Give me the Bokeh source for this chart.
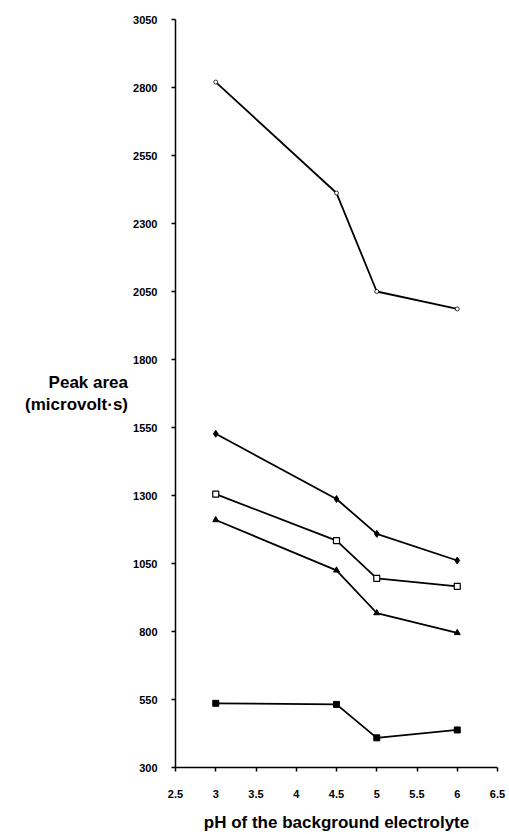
from bokeh.plotting import figure
from bokeh.models import Range1d, FixedTicker
from bokeh.embed import file_html
from bokeh.resources import INLINE

ph = [3, 4.5, 5, 6]
s_circle = [2820, 2412, 2050, 1986]
s_diamond = [1527, 1287, 1159, 1061]
s_open_square = [1305, 1134, 995, 966]
s_triangle = [1210, 1025, 868, 795]
s_square = [536, 532, 409, 438]

x_ticks = [2.5, 3, 3.5, 4, 4.5, 5, 5.5, 6, 6.5]
x_labels = ["2.5", "3", "3.5", "4", "4.5", "5", "5.5", "6", "6.5"]
y_ticks = [300, 550, 800, 1050, 1300, 1550, 1800, 2050, 2300, 2550, 2800, 3050]

FONT = "Liberation Sans"

p = figure(width=509, height=834, output_backend="svg", toolbar_location=None,
           x_range=Range1d(2.5, 6.5), y_range=Range1d(300, 3050),
           min_border_left=175, min_border_right=12, min_border_top=19, min_border_bottom=60)
p.outline_line_color = None
p.xgrid.grid_line_color = None
p.ygrid.grid_line_color = None

for ax in (p.xaxis, p.yaxis):
    ax.axis_line_color = "black"
    ax.axis_line_width = 1.5
    ax.major_tick_line_color = "black"
    ax.major_tick_line_width = 1.5
    ax.major_tick_in = 0
    ax.major_tick_out = 4
    ax.minor_tick_line_color = None
    ax.major_label_text_font = FONT
    ax.major_label_text_font_style = "bold"
    ax.major_label_text_font_size = "11px"
    ax.major_label_text_color = "black"

p.xaxis.ticker = FixedTicker(ticks=x_ticks)
p.yaxis.ticker = FixedTicker(ticks=y_ticks)
p.xaxis.major_label_overrides = dict(zip(x_ticks, x_labels))
p.xaxis.major_label_standoff = 18
p.yaxis.major_label_standoff = 14

p.xaxis.axis_label = "pH of the background electrolyte"
p.xaxis.axis_label_text_font = FONT
p.xaxis.axis_label_text_font_style = "bold"
p.xaxis.axis_label_text_font_size = "17px"
p.xaxis.axis_label_text_color = "black"
p.xaxis.axis_label_standoff = 12

p.yaxis.axis_label = "Peak area\n(microvolt\u00b7s)"
p.yaxis.axis_label_orientation = "horizontal"
p.yaxis.axis_label_text_font = FONT
p.yaxis.axis_label_text_font_style = "bold"
p.yaxis.axis_label_text_font_size = "17px"
p.yaxis.axis_label_text_color = "black"
p.yaxis.axis_label_text_align = "center"
p.yaxis.axis_label_standoff = 2

lw = 1.8
p.line(ph, s_circle, line_color="black", line_width=lw)
p.scatter(ph, s_circle, marker="circle", size=4, fill_color="white", line_color="black", line_width=0.8)

p.line(ph, s_diamond, line_color="black", line_width=lw)
p.scatter(ph, s_diamond, marker="diamond", size=7, fill_color="black", line_color="black")

p.line(ph, s_open_square, line_color="black", line_width=lw)
p.scatter(ph, s_open_square, marker="square", size=6, fill_color="white", line_color="black", line_width=1.2)

p.line(ph, s_triangle, line_color="black", line_width=lw)
p.scatter(ph, s_triangle, marker="triangle", size=6, fill_color="black", line_color="black")

p.line(ph, s_square, line_color="black", line_width=lw)
p.scatter(ph, s_square, marker="square", size=6, fill_color="black", line_color="black")

open("out.html", "w").write(file_html(p, INLINE))
